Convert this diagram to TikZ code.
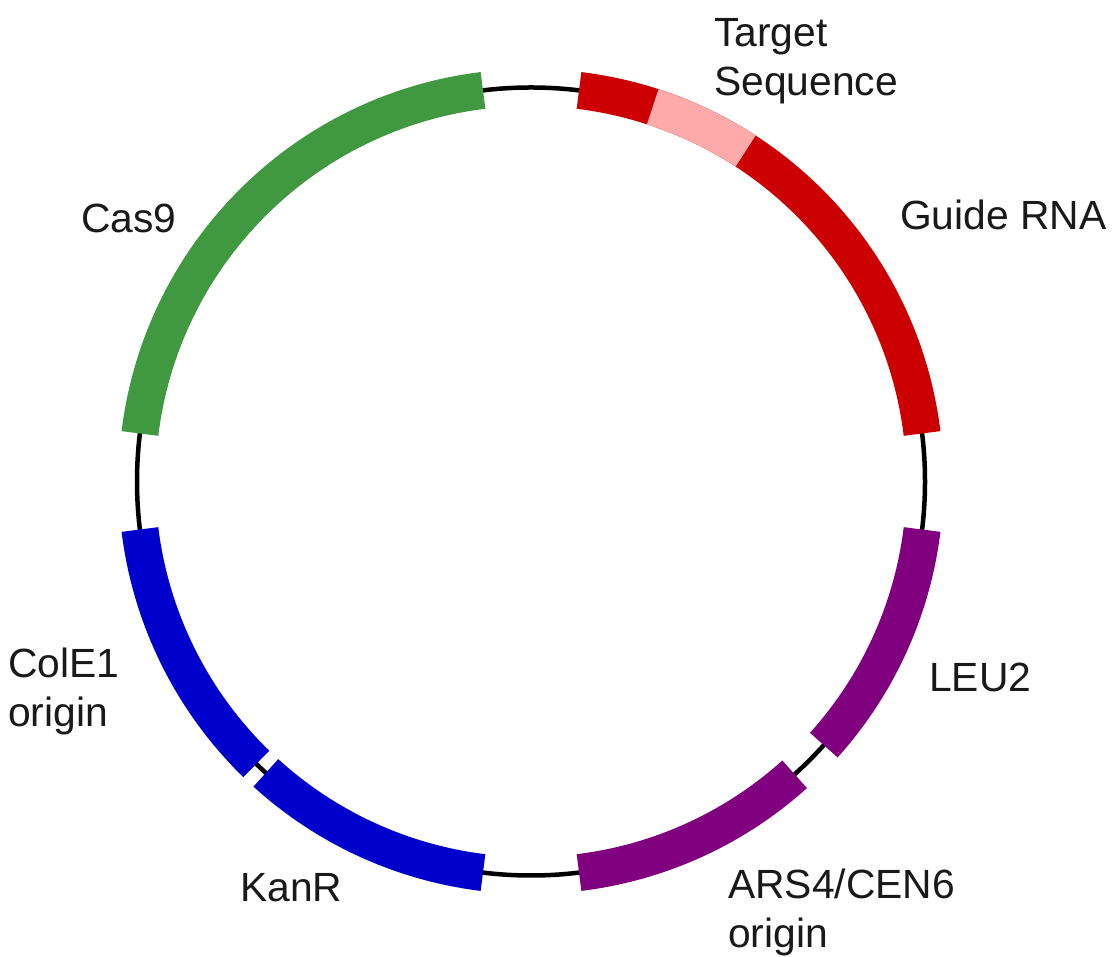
\documentclass[tikz,border=0pt]{standalone}
\usepackage{fontspec}
\setmainfont{Liberation Sans}
\definecolor{casgreen}{RGB}{64,153,64}
\definecolor{grna}{RGB}{204,0,0}
\definecolor{tseq}{RGB}{255,170,170}
\definecolor{oriblue}{RGB}{0,0,204}
\definecolor{leupurple}{RGB}{128,0,128}
\begin{document}
\begin{tikzpicture}[x=1pt,y=1pt,
  backbone/.style={draw=black,line width=4.5pt},
  feature/.style={line width=37pt,line cap=butt},
  lbl/.style={inner sep=0pt,anchor=base west,align=left,
    font=\fontsize{40.8}{49}\selectfont,text=black!90}]
\useasboundingbox (0,0) rectangle (1113,957);
\coordinate (c) at (531,475.5);
\def\R{394}
\draw[backbone] (c) circle[radius=\R];
% features
\draw[feature,casgreen] ([shift={(97:\R)}]c) arc[start angle=97,end angle=173,radius=\R];
\draw[feature,grna] ([shift={(7:\R)}]c) arc[start angle=7,end angle=83,radius=\R];
\draw[feature,tseq] ([shift={(57:\R)}]c) arc[start angle=57,end angle=72,radius=\R];
\draw[feature,leupurple] ([shift={(-7:\R)}]c) arc[start angle=-7,end angle=-42,radius=\R];
\draw[feature,leupurple] ([shift={(-48:\R)}]c) arc[start angle=-48,end angle=-83,radius=\R];
\draw[feature,oriblue] ([shift={(-97:\R)}]c) arc[start angle=-97,end angle=-132.3,radius=\R];
\draw[feature,oriblue] ([shift={(-134.2:\R)}]c) arc[start angle=-134.2,end angle=-173,radius=\R];
% labels (two-line labels anchored at the baseline of their last line)
\node[lbl] (cas9) at (81,724) {Cas9};
\node[lbl] (target) at (714,861) {Target\\Sequence};
\node[lbl] (guide) at (900,727) {Guide RNA};
\node[lbl] (cole1) at (8,230) {ColE1\\origin};
\node[lbl] (leu2) at (929,265) {LEU2};
\node[lbl] (ars) at (728,9) {ARS4/CEN6\\origin};
\node[lbl] (kanr) at (240,55) {KanR};
\end{tikzpicture}
\end{document}
